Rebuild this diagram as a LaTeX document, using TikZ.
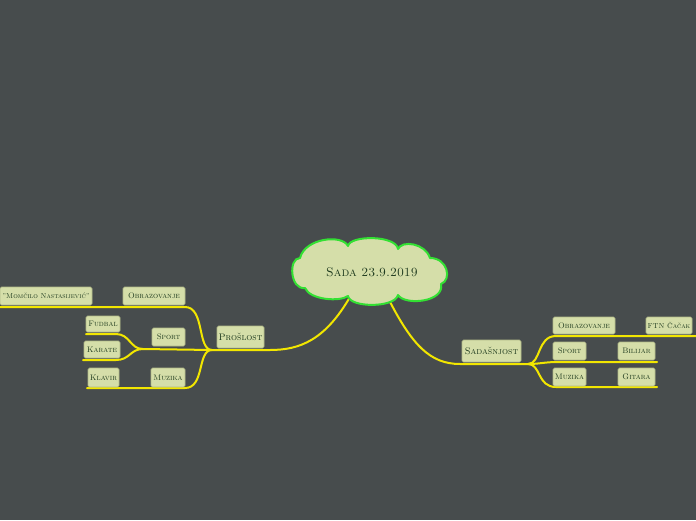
\documentclass[tikz,border=0pt]{standalone}
\usepackage{fontspec}
\definecolor{bg}{HTML}{474C4D}
\definecolor{boxfill}{HTML}{D5DEA9}
\definecolor{boxline}{HTML}{B2BA88}
\definecolor{txt}{HTML}{1E3A1E}
\definecolor{yel}{HTML}{F2E600}
\definecolor{cloudline}{HTML}{33E033}
\tikzset{
  lbl/.style={draw=boxline, fill=boxfill, rounded corners=1.5pt, line width=0.6pt,
    text=txt, font=\fontsize{8}{9}\selectfont\scshape, inner sep=1pt, align=center},
  mainlbl/.style={lbl, font=\fontsize{9.5}{11}\selectfont\scshape},
  branch/.style={draw=yel, line width=2pt, line cap=round},
  cloudshape/.style={draw=cloudline, fill=boxfill, line width=2pt, line join=round},
}
\begin{document}
\begin{tikzpicture}[x=1pt,y=-1pt]
\fill[bg] (0,0) rectangle (696,520);
\useasboundingbox (0,0) rectangle (696,520);

% coordinates
\coordinate (cL) at (350,297);
\coordinate (cR) at (388,298);
\coordinate (jL) at (212,350);
\coordinate (jS) at (143,349);
\coordinate (eObrL) at (-3,307);
\coordinate (eFud) at (86,334);
\coordinate (eKar) at (83,360);
\coordinate (eMuzL) at (87,388);
\coordinate (jR) at (528,364);
\coordinate (eObrR) at (699,336);
\coordinate (eSpR) at (657,362);
\coordinate (eMuzR) at (657,387);

% connectors
\draw[branch] (cL) .. controls (325,340) and (300,350) .. (270,350) -- (jL);
\draw[branch] (jL) .. controls (197,350) and (205,307) .. (185,307) -- (eObrL);
\draw[branch] (jL) -- (jS);
\draw[branch] (jS) .. controls (130,349) and (130,334) .. (116,334) -- (eFud);
\draw[branch] (jS) .. controls (130,349) and (130,360) .. (116,360) -- (eKar);
\draw[branch] (jL) .. controls (197,350) and (205,388) .. (185,388) -- (eMuzL);

\draw[branch] (cR) .. controls (412,345) and (430,364) .. (460,364) -- (jR);
\draw[branch] (jR) .. controls (541,364) and (537,336) .. (556,336) -- (eObrR);
\draw[branch] (jR) .. controls (540,364) and (544,362) .. (558,362) -- (eSpR);
\draw[branch] (jR) .. controls (541,364) and (537,387) .. (556,387) -- (eMuzR);

% root cloud
\path[cloudshape] (305,288)
  .. controls (290,290) and (288,258) .. (300,258)
  .. controls (305,238) and (342,234) .. (348,246)
  .. controls (350,235) and (396,235) .. (398,249)
  .. controls (402,240) and (425,243) .. (430,258)
  .. controls (448,258) and (452,280) .. (441,284)
  .. controls (445,302) and (405,306) .. (398,295)
  .. controls (395,308) and (350,308) .. (348,296)
  .. controls (340,302) and (310,300) .. (305,288) -- cycle;
\node[text=txt, font=\fontsize{12.5}{14}\selectfont\scshape, inner sep=0pt] (root) at (372,272) {Sada 23.9.2019};

% left
\node[mainlbl, minimum width=47pt, minimum height=22pt] (pro) at (240.5,337) {Prošlost};
\node[lbl, minimum width=62pt, minimum height=18pt] (obrL) at (154,296) {Obrazovanje};
\node[lbl, minimum width=92pt, minimum height=18pt, font=\fontsize{7.2}{9}\selectfont\scshape] (mom) at (46,296) {"Momčilo Nastasijević"};
\node[lbl, minimum width=33pt, minimum height=18pt] (spL) at (168.5,337) {Sport};
\node[lbl, minimum width=34pt, minimum height=16pt] (fud) at (103,324) {Fudbal};
\node[lbl, minimum width=36pt, minimum height=17pt] (kar) at (102,349.5) {Karate};
\node[lbl, minimum width=34pt, minimum height=19pt] (muzL) at (168,377.5) {Muzika};
\node[lbl, minimum width=31pt, minimum height=19pt] (kla) at (103.5,377.5) {Klavir};

% right
\node[mainlbl, minimum width=59pt, minimum height=22pt] (sad) at (491.5,351) {Sadašnjost};
\node[lbl, minimum width=62pt, minimum height=17pt] (obrR) at (584,325.5) {Obrazovanje};
\node[lbl, minimum width=46pt, minimum height=17pt, font=\fontsize{7.2}{9}\selectfont\scshape] (ftn) at (669,325.5) {FTN Čačak};
\node[lbl, minimum width=33pt, minimum height=18pt] (spR) at (569.5,351) {Sport};
\node[lbl, minimum width=37pt, minimum height=18pt] (bil) at (636.5,351) {Bilijar};
\node[lbl, minimum width=33pt, minimum height=18pt] (muzR) at (569.5,377) {Muzika};
\node[lbl, minimum width=37pt, minimum height=18pt] (git) at (636.5,377) {Gitara};
\end{tikzpicture}
\end{document}
